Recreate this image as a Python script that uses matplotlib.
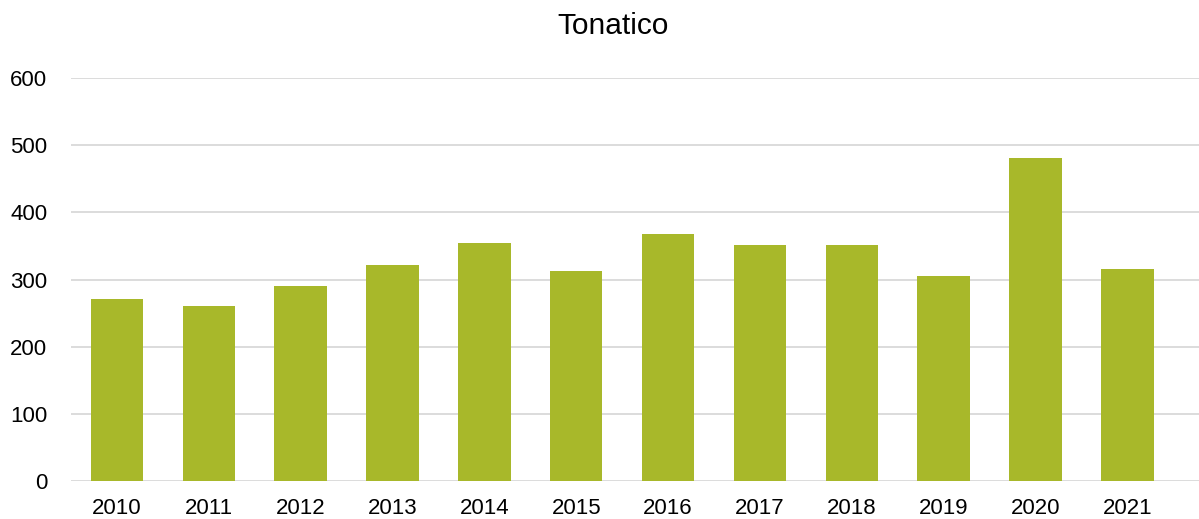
import numpy as np
import matplotlib.pyplot as plt

plt.rcParams['font.family'] = ['Liberation Sans', 'DejaVu Sans']

years = ['2010', '2011', '2012', '2013', '2014', '2015', '2016', '2017', '2018', '2019', '2020', '2021']
values = [271, 260, 290, 322, 355, 313, 367, 352, 352, 305, 481, 316]

fig = plt.figure(figsize=(11.99, 5.19), dpi=100)
ax = fig.add_axes([71 / 1199, 1 - 481 / 519, 1 - 71 / 1199, (481 - 78) / 519])

x = np.arange(len(years))
ax.bar(x, values, width=0.57, color='#A8B82A', zorder=3)

ax.set_ylim(0, 600)
ax.set_yticks(range(0, 601, 100))
ax.set_xlim(-0.5, 11.78)
ax.set_xticks(x)
ax.set_xticklabels(years)
ax.grid(axis='y', color='#D9D9D9', linewidth=1.3, zorder=0)
for s in ax.spines.values():
    s.set_visible(False)
ax.tick_params(axis='both', length=0, labelsize=16, colors='#000000')
ax.tick_params(axis='x', pad=12)
ax.tick_params(axis='y', pad=17)

fig.text(613 / 1199, 1 - 26 / 519, 'Tonatico', ha='center', va='center', fontsize=21.5)

plt.savefig('out.png', dpi=100)
